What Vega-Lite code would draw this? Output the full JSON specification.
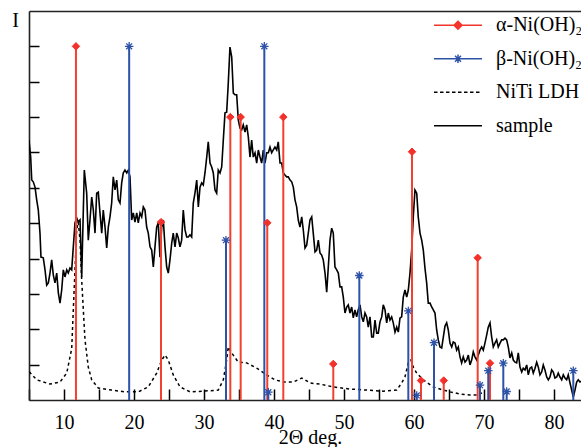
{
  "$schema": "https://vega.github.io/schema/vega-lite/v6.json",
  "autosize": "none",
  "width": 552,
  "height": 389,
  "padding": {"left": 29, "top": 11, "right": 0, "bottom": 47},
  "background": "white",
  "datasets": {
    "sample": [
      {"x":5.00,"y":7.35},{"x":5.24,"y":6.87},{"x":5.39,"y":6.22},{"x":5.61,"y":6.17},{"x":5.86,"y":6.02},{"x":6.10,"y":5.66},{"x":6.33,"y":5.37},{"x":6.57,"y":4.72},{"x":6.71,"y":4.04},{"x":7.04,"y":4.02},{"x":7.29,"y":3.68},{"x":7.53,"y":3.25},{"x":7.76,"y":3.31},{"x":8.00,"y":3.59},{"x":8.24,"y":3.96},{"x":8.47,"y":3.54},{"x":8.71,"y":3.31},{"x":8.96,"y":3.59},{"x":9.19,"y":3.03},{"x":9.43,"y":2.74},{"x":9.67,"y":3.11},{"x":9.90,"y":3.68},{"x":10.14,"y":3.48},{"x":10.39,"y":3.68},{"x":10.61,"y":3.59},{"x":10.86,"y":3.73},{"x":11.10,"y":3.68},{"x":11.33,"y":4.33},{"x":11.57,"y":5.01},{"x":11.81,"y":5.15},{"x":12.04,"y":5.03},{"x":12.29,"y":5.09},{"x":12.53,"y":3.48},{"x":12.90,"y":6.50},{"x":13.24,"y":5.85},{"x":13.47,"y":4.52},{"x":13.71,"y":5.09},{"x":13.96,"y":5.74},{"x":14.19,"y":5.37},{"x":14.43,"y":4.72},{"x":14.67,"y":5.85},{"x":14.90,"y":5.88},{"x":15.14,"y":5.29},{"x":15.39,"y":4.72},{"x":15.61,"y":5.37},{"x":15.86,"y":4.89},{"x":16.10,"y":4.30},{"x":16.33,"y":4.89},{"x":16.57,"y":5.18},{"x":16.81,"y":5.57},{"x":17.04,"y":6.31},{"x":17.29,"y":5.94},{"x":17.53,"y":6.22},{"x":17.76,"y":5.66},{"x":18.00,"y":5.57},{"x":18.24,"y":6.14},{"x":18.47,"y":6.42},{"x":18.71,"y":6.50},{"x":18.96,"y":6.42},{"x":19.19,"y":6.50},{"x":19.43,"y":6.31},{"x":19.67,"y":5.09},{"x":19.90,"y":5.29},{"x":20.14,"y":5.03},{"x":20.39,"y":5.29},{"x":20.61,"y":5.01},{"x":20.86,"y":5.29},{"x":21.10,"y":5.18},{"x":21.33,"y":5.46},{"x":21.57,"y":5.37},{"x":21.81,"y":4.89},{"x":22.04,"y":4.72},{"x":22.29,"y":4.33},{"x":22.53,"y":4.24},{"x":22.76,"y":3.76},{"x":23.00,"y":4.33},{"x":23.24,"y":4.89},{"x":23.47,"y":5.01},{"x":23.71,"y":4.04},{"x":23.96,"y":4.89},{"x":24.19,"y":5.09},{"x":24.43,"y":4.33},{"x":24.67,"y":3.76},{"x":24.90,"y":3.59},{"x":25.14,"y":3.96},{"x":25.39,"y":4.44},{"x":25.61,"y":4.72},{"x":25.86,"y":4.33},{"x":26.10,"y":4.72},{"x":26.33,"y":4.58},{"x":26.57,"y":4.33},{"x":26.81,"y":4.52},{"x":27.04,"y":5.37},{"x":27.29,"y":4.81},{"x":27.53,"y":4.61},{"x":27.76,"y":4.61},{"x":28.00,"y":4.67},{"x":28.24,"y":4.61},{"x":28.47,"y":5.57},{"x":28.71,"y":5.85},{"x":28.96,"y":6.22},{"x":29.19,"y":5.46},{"x":29.43,"y":6.02},{"x":29.67,"y":6.14},{"x":29.90,"y":6.08},{"x":30.14,"y":6.42},{"x":30.39,"y":6.87},{"x":30.61,"y":7.30},{"x":30.86,"y":6.70},{"x":31.10,"y":6.59},{"x":31.33,"y":6.42},{"x":31.57,"y":5.94},{"x":31.81,"y":5.85},{"x":32.04,"y":6.50},{"x":32.29,"y":6.42},{"x":32.53,"y":6.59},{"x":32.76,"y":7.35},{"x":33.00,"y":8.12},{"x":33.24,"y":8.14},{"x":33.47,"y":8.96},{"x":33.71,"y":9.98},{"x":33.96,"y":9.70},{"x":34.19,"y":8.68},{"x":34.43,"y":8.63},{"x":34.67,"y":8.63},{"x":34.90,"y":7.92},{"x":35.14,"y":7.69},{"x":35.39,"y":7.64},{"x":35.61,"y":7.78},{"x":35.86,"y":7.58},{"x":36.10,"y":7.78},{"x":36.33,"y":7.44},{"x":36.57,"y":6.87},{"x":36.81,"y":7.35},{"x":37.04,"y":6.87},{"x":37.29,"y":6.99},{"x":37.53,"y":6.70},{"x":37.76,"y":7.07},{"x":38.00,"y":6.87},{"x":38.24,"y":6.70},{"x":38.47,"y":7.07},{"x":38.71,"y":6.70},{"x":38.96,"y":6.99},{"x":39.19,"y":6.99},{"x":39.43,"y":7.15},{"x":39.67,"y":6.99},{"x":39.90,"y":7.07},{"x":40.14,"y":7.15},{"x":40.39,"y":7.07},{"x":40.61,"y":7.30},{"x":40.86,"y":6.70},{"x":41.10,"y":6.70},{"x":41.33,"y":6.42},{"x":41.57,"y":6.36},{"x":41.81,"y":6.31},{"x":42.04,"y":6.31},{"x":42.29,"y":6.22},{"x":42.53,"y":6.17},{"x":42.76,"y":6.02},{"x":43.00,"y":5.66},{"x":43.24,"y":5.46},{"x":43.47,"y":5.09},{"x":43.71,"y":4.89},{"x":43.96,"y":5.18},{"x":44.19,"y":4.80},{"x":44.43,"y":4.30},{"x":44.67,"y":4.38},{"x":44.90,"y":4.72},{"x":45.14,"y":5.09},{"x":45.39,"y":5.18},{"x":45.61,"y":4.72},{"x":45.86,"y":4.19},{"x":46.10,"y":4.24},{"x":46.33,"y":4.52},{"x":46.57,"y":4.16},{"x":46.81,"y":4.10},{"x":47.04,"y":3.96},{"x":47.29,"y":3.59},{"x":47.53,"y":3.05},{"x":47.76,"y":3.76},{"x":48.00,"y":4.52},{"x":48.24,"y":4.86},{"x":48.47,"y":4.72},{"x":48.71,"y":3.76},{"x":48.96,"y":3.68},{"x":49.19,"y":3.59},{"x":49.43,"y":3.20},{"x":49.67,"y":3.20},{"x":49.90,"y":2.91},{"x":50.14,"y":2.46},{"x":50.39,"y":2.63},{"x":50.61,"y":2.69},{"x":50.86,"y":2.46},{"x":51.10,"y":2.63},{"x":51.33,"y":2.32},{"x":51.57,"y":2.55},{"x":51.81,"y":2.35},{"x":52.04,"y":2.55},{"x":52.29,"y":2.69},{"x":52.53,"y":2.35},{"x":52.76,"y":2.21},{"x":53.00,"y":2.46},{"x":53.24,"y":2.35},{"x":53.47,"y":2.06},{"x":53.71,"y":2.35},{"x":53.96,"y":1.78},{"x":54.19,"y":1.78},{"x":54.43,"y":2.26},{"x":54.67,"y":1.89},{"x":54.90,"y":1.89},{"x":55.14,"y":2.21},{"x":55.39,"y":2.35},{"x":55.61,"y":2.69},{"x":55.86,"y":2.55},{"x":56.10,"y":2.18},{"x":56.33,"y":2.46},{"x":56.57,"y":2.26},{"x":56.81,"y":2.35},{"x":57.04,"y":2.18},{"x":57.29,"y":1.92},{"x":57.53,"y":2.06},{"x":57.76,"y":1.92},{"x":58.00,"y":2.32},{"x":58.24,"y":2.35},{"x":58.47,"y":2.91},{"x":58.71,"y":3.11},{"x":58.96,"y":2.91},{"x":59.19,"y":3.11},{"x":59.43,"y":3.59},{"x":59.67,"y":4.24},{"x":59.90,"y":5.18},{"x":60.14,"y":5.94},{"x":60.39,"y":5.85},{"x":60.61,"y":5.18},{"x":60.86,"y":4.72},{"x":61.10,"y":4.52},{"x":61.33,"y":4.24},{"x":61.57,"y":3.73},{"x":61.81,"y":3.31},{"x":62.04,"y":2.74},{"x":62.29,"y":2.74},{"x":62.53,"y":2.63},{"x":62.76,"y":2.55},{"x":63.00,"y":2.46},{"x":63.24,"y":1.98},{"x":63.47,"y":1.70},{"x":63.71,"y":1.50},{"x":63.96,"y":1.47},{"x":64.19,"y":1.78},{"x":64.43,"y":2.09},{"x":64.67,"y":2.18},{"x":64.90,"y":1.98},{"x":65.14,"y":1.61},{"x":65.39,"y":1.50},{"x":65.61,"y":1.64},{"x":65.86,"y":1.61},{"x":66.10,"y":1.41},{"x":66.33,"y":1.50},{"x":66.57,"y":1.22},{"x":66.81,"y":1.05},{"x":67.04,"y":1.22},{"x":67.29,"y":1.07},{"x":67.53,"y":1.13},{"x":67.76,"y":1.27},{"x":68.00,"y":0.99},{"x":68.24,"y":1.13},{"x":68.47,"y":1.36},{"x":68.71,"y":1.22},{"x":68.96,"y":1.13},{"x":69.19,"y":1.27},{"x":69.43,"y":1.41},{"x":69.67,"y":1.50},{"x":69.90,"y":1.41},{"x":70.14,"y":1.61},{"x":70.39,"y":1.84},{"x":70.61,"y":2.06},{"x":70.86,"y":2.18},{"x":71.10,"y":1.78},{"x":71.33,"y":1.50},{"x":71.57,"y":1.61},{"x":71.81,"y":1.70},{"x":72.04,"y":1.50},{"x":72.29,"y":1.61},{"x":72.53,"y":1.70},{"x":72.76,"y":1.70},{"x":73.00,"y":1.75},{"x":73.24,"y":1.70},{"x":73.47,"y":1.50},{"x":73.71,"y":1.19},{"x":73.96,"y":1.33},{"x":74.19,"y":1.13},{"x":74.43,"y":1.07},{"x":74.67,"y":1.05},{"x":74.90,"y":1.33},{"x":75.14,"y":0.93},{"x":75.39,"y":0.79},{"x":75.61,"y":0.90},{"x":75.86,"y":0.85},{"x":76.10,"y":0.99},{"x":76.33,"y":0.71},{"x":76.57,"y":0.90},{"x":76.81,"y":0.93},{"x":77.04,"y":0.76},{"x":77.29,"y":0.90},{"x":77.53,"y":1.07},{"x":77.76,"y":0.93},{"x":78.00,"y":0.71},{"x":78.24,"y":0.79},{"x":78.47,"y":0.99},{"x":78.71,"y":0.85},{"x":78.96,"y":0.65},{"x":79.19,"y":0.57},{"x":79.43,"y":0.65},{"x":79.67,"y":0.85},{"x":79.90,"y":0.79},{"x":80.14,"y":0.62},{"x":80.39,"y":0.65},{"x":80.61,"y":0.76},{"x":80.86,"y":0.65},{"x":81.10,"y":0.57},{"x":81.33,"y":0.71},{"x":81.57,"y":0.62},{"x":81.81,"y":0.57},{"x":82.04,"y":0.71},{"x":82.29,"y":0.48},{"x":82.53,"y":0.28},{"x":82.76,"y":0.08},{"x":83.00,"y":0.28},{"x":83.24,"y":0.51},{"x":83.47,"y":0.57},{"x":83.71,"y":0.51},{"x":84.00,"y":0.54}
    ],
    "niti": [
      {"x":5.04,"y":0.80},{"x":6.10,"y":0.57},{"x":8.00,"y":0.45},{"x":9.43,"y":0.51},{"x":10.39,"y":0.76},{"x":11.10,"y":1.45},{"x":11.33,"y":2.55},{"x":11.57,"y":3.68},{"x":11.81,"y":4.81},{"x":12.04,"y":5.03},{"x":12.29,"y":4.52},{"x":12.53,"y":3.39},{"x":12.76,"y":2.55},{"x":13.00,"y":1.70},{"x":13.47,"y":0.93},{"x":13.96,"y":0.57},{"x":14.90,"y":0.34},{"x":16.81,"y":0.28},{"x":18.71,"y":0.23},{"x":20.61,"y":0.23},{"x":22.04,"y":0.37},{"x":23.24,"y":0.76},{"x":23.96,"y":1.13},{"x":24.43,"y":1.27},{"x":24.90,"y":1.13},{"x":25.61,"y":0.71},{"x":26.57,"y":0.37},{"x":28.00,"y":0.23},{"x":29.90,"y":0.25},{"x":32.04,"y":0.28},{"x":32.76,"y":0.57},{"x":33.24,"y":1.13},{"x":33.47,"y":1.50},{"x":33.96,"y":1.33},{"x":34.90,"y":1.07},{"x":36.10,"y":1.05},{"x":37.53,"y":0.90},{"x":38.96,"y":0.71},{"x":40.14,"y":0.57},{"x":41.33,"y":0.51},{"x":42.76,"y":0.51},{"x":43.96,"y":0.62},{"x":44.43,"y":0.57},{"x":45.14,"y":0.48},{"x":46.57,"y":0.45},{"x":48.47,"y":0.37},{"x":50.86,"y":0.31},{"x":53.24,"y":0.28},{"x":55.61,"y":0.25},{"x":57.53,"y":0.28},{"x":58.24,"y":0.48},{"x":58.71,"y":0.65},{"x":59.19,"y":1.05},{"x":59.57,"y":1.13},{"x":59.90,"y":0.93},{"x":60.39,"y":0.76},{"x":61.33,"y":0.57},{"x":62.76,"y":0.37},{"x":64.19,"y":0.28},{"x":65.14,"y":0.23},{"x":66.57,"y":0.17},{"x":68.00,"y":0.14},{"x":68.96,"y":0.14},{"x":69.71,"y":0.20}
    ],
    "alpha": [
      {"x":11.71,"y":10},{"x":23.86,"y":5.03},{"x":33.76,"y":8},{"x":35.24,"y":8},{"x":39.04,"y":5.01},{"x":41.33,"y":8},{"x":48.47,"y":1.02},{"x":59.72,"y":7.02},{"x":61.0,"y":0.55},{"x":64.25,"y":0.55},{"x":69.1,"y":4.02},{"x":70.86,"y":1.04}
    ],
    "beta": [
      {"x":19.31,"y":10},{"x":33.14,"y":4.52},{"x":38.62,"y":10},{"x":39.19,"y":0.22},{"x":52.19,"y":3.52},{"x":59.19,"y":2.52},{"x":60.39,"y":0.13},{"x":62.86,"y":1.62},{"x":69.43,"y":0.42},{"x":70.61,"y":0.83},{"x":72.76,"y":1.04},{"x":73.24,"y":0.24},{"x":82.76,"y":0.83}
    ],
    "legend": [
      {"name":"α-Ni(OH)₂"},{"name":"β-Ni(OH)₂"},{"name":"NiTi LDH"},{"name":"sample"}
    ]
  },
  "layer": [
    {
      "data": {"name": "niti"},
      "mark": {"type": "line", "color": "black", "strokeWidth": 1.5, "strokeDash": [3, 3], "clip": true},
      "encoding": {
        "x": {"field": "x", "type": "quantitative", "scale": {"domain": [5, 83.86], "nice": false, "zero": false},
          "axis": {"orient": "bottom", "values": [5,10,15,20,25,30,35,40,45,50,55,60,65,70,75,80],
            "labelExpr": "datum.value % 10 === 0 ? datum.label : ''", "labelOverlap": false, "labelFlush": false,
            "labelFont": "Liberation Serif", "labelFontSize": 20, "labelColor": "black",
            "ticks": true, "tickSize": -11, "tickColor": "black", "tickWidth": 1.5, "labelPadding": 23, "labelBaseline": "top",
            "title": "2Θ deg.", "titleFont": "Liberation Serif", "titleX": 281, "titleY": 43.5, "titleBaseline": "alphabetic", "titleAnchor": null,
            "encode": {"ticks": {"y2": {"value": {"expr": "datum.value % 10 === 0 ? -11 : -6"}}},
                       "labels": {"font": {"value": "Liberation Serif"}}}}},
        "y": {"field": "y", "type": "quantitative", "scale": {"domain": [0, 11], "nice": false, "zero": false},
          "axis": {"orient": "left", "values": [1,2,3,4,5,6,7,8,9,10], "labels": false,
            "ticks": true, "tickSize": -10, "tickColor": "black", "tickWidth": 1.5,
            "title": "I", "titleFont": "Liberation Serif", "titleAngle": 0, "titleX": -14, "titleY": 15, "titleBaseline": "alphabetic", "titleAlign": "center", "titleAnchor": null,
            "encode": {"ticks": {"x2": {"value": {"expr": "datum.value % 2 === 0 ? 10 : 6"}}}}}}
      }
    },
    {
      "data": {"name": "sample"},
      "mark": {"type": "line", "color": "black", "strokeWidth": 1.6, "clip": true},
      "encoding": {
        "x": {"field": "x", "type": "quantitative", "scale": {"domain": [5, 83.86], "nice": false, "zero": false},
          "axis": {"orient": "top", "ticks": false, "labels": false, "title": null}},
        "y": {"field": "y", "type": "quantitative", "scale": {"domain": [0, 11], "nice": false, "zero": false}}
      }
    },
    {
      "data": {"name": "alpha"},
      "mark": {"type": "rule", "color": "#f4402e", "strokeWidth": 2, "clip": true},
      "encoding": {
        "x": {"field": "x", "type": "quantitative", "scale": {"domain": [5, 83.86], "nice": false, "zero": false}, "axis": null},
        "y": {"field": "y", "type": "quantitative", "scale": {"domain": [0, 11], "nice": false, "zero": false}},
        "y2": {"datum": 0}
      }
    },
    {
      "data": {"name": "beta"},
      "mark": {"type": "rule", "color": "#2d52a6", "strokeWidth": 2, "clip": true},
      "encoding": {
        "x": {"field": "x", "type": "quantitative", "scale": {"domain": [5, 83.86], "nice": false, "zero": false}, "axis": null},
        "y": {"field": "y", "type": "quantitative", "scale": {"domain": [0, 11], "nice": false, "zero": false}},
        "y2": {"datum": 0}
      }
    },
    {
      "data": {"name": "alpha"},
      "mark": {"type": "point", "shape": "diamond", "filled": true, "color": "#f4302a", "stroke": "#f4302a", "strokeWidth": 1, "size": 56, "opacity": 1, "clip": true},
      "encoding": {
        "x": {"field": "x", "type": "quantitative", "scale": {"domain": [5, 83.86], "nice": false, "zero": false}, "axis": null},
        "y": {"field": "y", "type": "quantitative", "scale": {"domain": [0, 11], "nice": false, "zero": false}}
      }
    },
    {
      "data": {"name": "beta"},
      "mark": {"type": "point", "shape": "M-1,0H1M0,-1V1M-0.7,-0.7L0.7,0.7M-0.7,0.7L0.7,-0.7", "filled": false, "color": "#2d52a6", "strokeWidth": 1.3, "size": 72, "opacity": 1, "clip": true},
      "encoding": {
        "x": {"field": "x", "type": "quantitative", "scale": {"domain": [5, 83.86], "nice": false, "zero": false}, "axis": null},
        "y": {"field": "y", "type": "quantitative", "scale": {"domain": [0, 11], "nice": false, "zero": false}}
      }
    },
    {
      "data": {"name": "legend"},
      "mark": {"type": "point", "filled": false, "opacity": 0, "size": 400, "strokeWidth": 1.5},
      "encoding": {
        "shape": {"field": "name", "type": "nominal",
          "scale": {"domain": ["α-Ni(OH)₂","β-Ni(OH)₂","NiTi LDH","sample"],
            "range": ["M-2.4,0H2.4M0,-0.4L0.4,0L0,0.4L-0.4,0ZM0,-0.26L0.26,0L0,0.26L-0.26,0ZM0,-0.13L0.13,0L0,0.13L-0.13,0Z",
                      "M-2.4,0H2.4M0,-0.42V0.42M-0.3,-0.3L0.3,0.3M-0.3,0.3L0.3,-0.3",
                      "M-2.4,0H-2.05M-1.8,0H-1.45M-1.2,0H-0.85M-0.6,0H-0.25M0,0H0.35M0.6,0H0.95M1.2,0H1.55M1.8,0H2.15",
                      "M-2.4,0H2.4"]}},
        "color": {"field": "name", "type": "nominal",
          "scale": {"domain": ["α-Ni(OH)₂","β-Ni(OH)₂","NiTi LDH","sample"], "range": ["#f4352b", "#2d52a6", "black", "black"]},
          "legend": {"encode": {"symbols": {"opacity": {"value": 1}, "fillOpacity": {"value": 1}, "fill": {"value": {"expr": "scale('color', datum.value)"}}}}}}
      }
    }
  ],
  "resolve": {"axis": {"x": "independent"}},
  "config": {
    "view": {"stroke": null},
    "font": "Liberation Serif",
    "style": {"guide-label": {"font": "Liberation Serif"}, "guide-title": {"font": "Liberation Serif"}},
    "axis": {"grid": false, "domainColor": "#222", "domainWidth": 1.6, "tickColor": "black", "tickWidth": 1.5,
      "labelFont": "Liberation Serif", "labelFontSize": 20, "labelColor": "black",
      "titleFont": "Liberation Serif", "titleFontSize": 20, "titleFontWeight": "normal", "titleColor": "black"},
    "legend": {"orient": "none", "legendX": 418, "legendY": 3.25, "title": null, "padding": 0,
      "labelFont": "Liberation Serif", "labelFontSize": 20, "labelColor": "black", "labelOffset": 27,
      "labelLimit": 0, "rowPadding": 12.5, "symbolSize": 400, "symbolStrokeWidth": 1.5, "symbolOpacity": 1}
  }
}
